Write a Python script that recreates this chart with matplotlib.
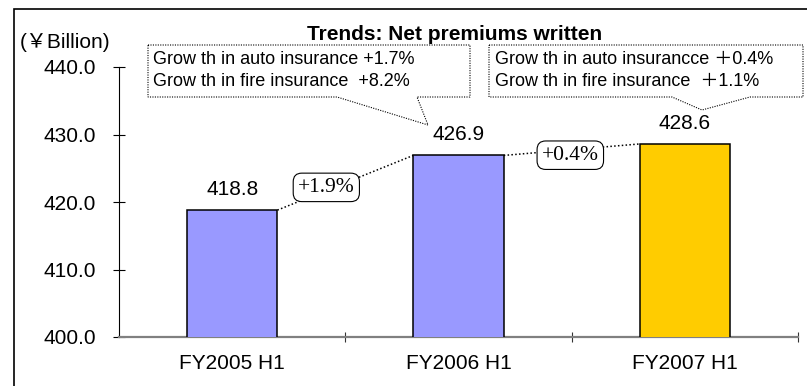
import matplotlib.pyplot as plt
from matplotlib.patches import Polygon, Rectangle
from matplotlib.ticker import FixedLocator, FormatStrFormatter

# half-year net premiums written (yen billion)
periods = ['FY2005 H1', 'FY2006 H1', 'FY2007 H1']
premiums = [418.8, 426.9, 428.6]
bar_colors = ['#9999FF', '#9999FF', '#FFCC00']
growth = ['+1.9%', '+0.4%']
callout_1 = ['Grow th in auto insurance +1.7%', 'Grow th in fire insurance  +8.2%']
callout_2 = ['Grow th in auto insurancce \uff0b0.4%', 'Grow th in fire insurance  \uff0b1.1%']

W, H = 807, 386
SANS = ['Liberation Sans', 'DejaVu Sans']
plt.rcParams['font.family'] = SANS


def px(x, y):
    # pixel position from the top-left corner -> figure fraction
    return x / W, 1 - y / H


fig = plt.figure(figsize=(W / 100, H / 100), dpi=100)
ax = fig.add_axes([119 / W, (H - 337) / H, (798 - 119) / W, (337 - 67) / H])

xs = range(len(periods))
bars = ax.bar(xs, premiums, width=0.4, color=bar_colors,
              edgecolor='black', linewidth=1.1, zorder=3)

ax.set_xlim(-0.5, 2.5)
ax.set_ylim(400, 440)
ax.set_yticks([400, 410, 420, 430, 440])
ax.yaxis.set_major_formatter(FormatStrFormatter('%.1f'))
ax.set_xticks(list(xs))
ax.set_xticklabels(periods)
ax.xaxis.set_minor_locator(FixedLocator([0.5, 1.5, 2.5]))

ax.spines['top'].set_visible(False)
ax.spines['right'].set_visible(False)
ax.spines['left'].set_linewidth(0.8)
ax.spines['bottom'].set_color('#808080')
ax.spines['bottom'].set_linewidth(1.6)
ax.tick_params(axis='y', direction='inout', length=9, width=0.8,
               labelsize=15, pad=12)
ax.tick_params(axis='x', which='major', length=0, labelsize=15, pad=12)
ax.tick_params(axis='x', which='minor', direction='inout', length=7,
               width=0.8, color='#333333')

# value labels above the bars
for b, v in zip(bars, premiums):
    ax.annotate(f'{v:.1f}', (b.get_x() + b.get_width() / 2, v),
                xytext=(0, 15), textcoords='offset points',
                ha='center', va='center', fontsize=15)

# dotted connectors between bar tops with the growth rates on them
pos = [0.36, 0.49]
shift = [0.45, -0.8]
for i in range(len(growth)):
    x0 = bars[i].get_x() + bars[i].get_width()
    x1 = bars[i + 1].get_x()
    y0, y1 = premiums[i], premiums[i + 1]
    ax.plot([x0, x1], [y0, y1], color='black', linestyle=(0, (1, 1.5)),
            linewidth=1.1, zorder=2)
    t = pos[i]
    ax.text(x0 + (x1 - x0) * t, y0 + (y1 - y0) * t + shift[i], growth[i],
            ha='center', va='center', fontsize=15.5,
            family=['Liberation Serif', 'DejaVu Serif'], zorder=4,
            bbox=dict(boxstyle='round,pad=0.22,rounding_size=0.4',
                      facecolor='white', edgecolor='black', linewidth=0.8))

# title and unit
fig.text(*px(455, 34), 'Trends: Net premiums written', ha='center',
         va='center', fontsize=15, fontweight='bold')
fig.text(*px(20, 42), '(\uffe5Billion)', ha='left', va='center',
         fontsize=15, family=['Liberation Sans', 'Noto Sans CJK JP'])

# dotted speech-bubble callouts
bubbles = [
    [(148, 45), (470, 45), (470, 97), (417, 97), (428, 125), (337, 97), (148, 97)],
    [(489, 45), (803, 45), (803, 97), (750, 97), (702, 110), (672, 97), (489, 97)],
]
for pts, lines, left in zip(bubbles, [callout_1, callout_2], [153, 495]):
    fig.patches.append(Polygon([px(*p) for p in pts], closed=True,
                               transform=fig.transFigure, fill=False,
                               edgecolor='black', linewidth=0.8,
                               linestyle=(0, (1, 1.2))))
    for k, line in enumerate(lines):
        fig.text(*px(left, 60 + 22 * k), line, ha='left', va='center',
                 fontsize=13, family=['Liberation Sans', 'Noto Sans CJK JP'])

# outer frame
fig.patches.append(Rectangle(px(14, 400), 1.0, (400 - 9) / H,
                             transform=fig.transFigure, fill=False,
                             edgecolor='black', linewidth=1.2))

fig.savefig('out.png', dpi=100)
